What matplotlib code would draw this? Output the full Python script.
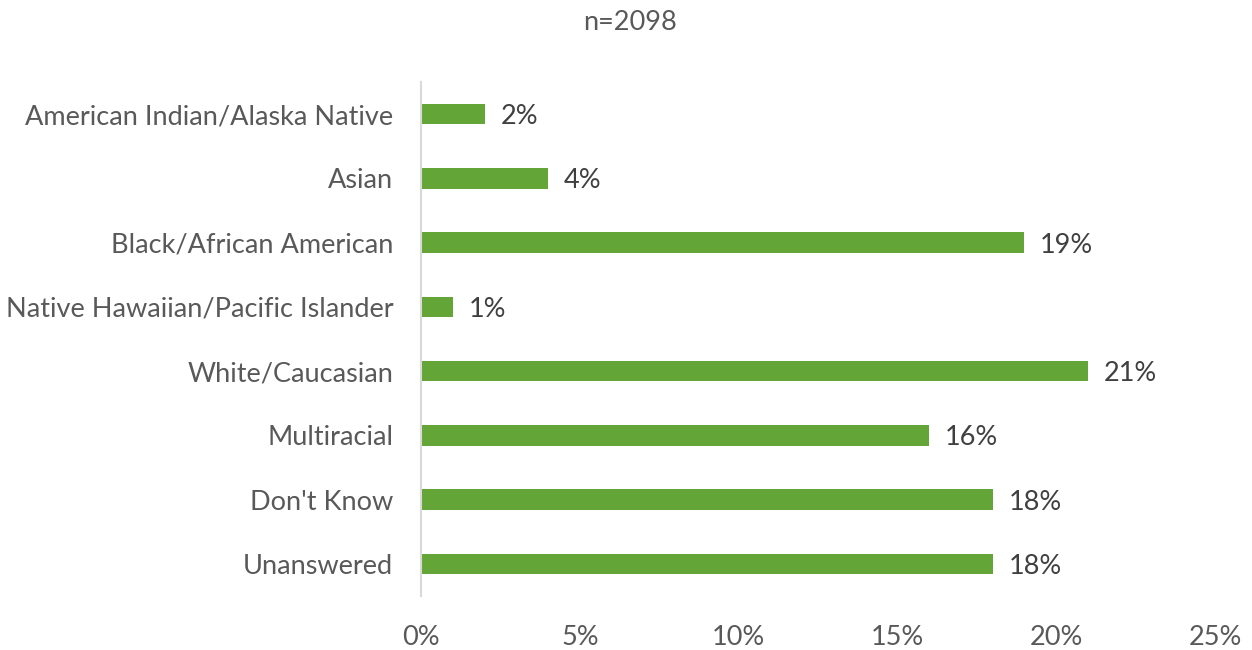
import matplotlib.pyplot as plt

# Survey responses by race
categories = ['American Indian/Alaska Native', 'Asian', 'Black/African American',
              'Native Hawaiian/Pacific Islander', 'White/Caucasian', 'Multiracial',
              "Don't Know", 'Unanswered']
percents = [2, 4, 19, 1, 21, 16, 18, 18]
x_ticks = [0, 5, 10, 15, 20, 25]
title = 'n=2098'

plt.rcParams['font.family'] = ['Lato', 'DejaVu Sans']
FS = 19.5

fig = plt.figure(figsize=(12.52, 6.5), dpi=100)
ax = fig.add_axes([0.3363, 0.083, 0.6341, 0.791])

ypos = range(len(categories))
ax.barh(ypos, percents, height=0.32, color='#64A537')
for y, v in zip(ypos, percents):
    ax.text(v + 0.5, y, f'{v}%', va='center_baseline', ha='left', fontsize=FS, color='#404040')

ax.set_ylim(len(categories) - 0.5, -0.5)
ax.set_yticks(list(ypos))
ax.set_yticklabels(categories, fontsize=FS, color='#595959', va='center_baseline')
ax.set_xlim(0, 25)
ax.set_xticks(x_ticks)
ax.set_xticklabels([f'{t}%' for t in x_ticks], fontsize=FS, color='#595959')
ax.tick_params(length=0)
ax.tick_params(axis='x', pad=21)
ax.tick_params(axis='y', pad=20)

for side in ['top', 'right', 'bottom']:
    ax.spines[side].set_visible(False)
ax.spines['left'].set_color('#D9D9D9')
ax.spines['left'].set_linewidth(1.5)

fig.text(0.503, 0.965, title, ha='center', va='center', fontsize=FS, color='#595959')

fig.savefig('out.png', dpi=100)
